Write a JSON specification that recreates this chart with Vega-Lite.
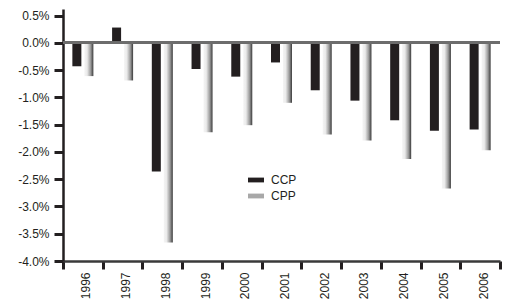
{
  "$schema": "https://vega.github.io/schema/vega-lite/v6.json",
  "width": 437,
  "height": 252,
  "autosize": "none",
  "padding": {"left": 63, "top": 9, "right": 9, "bottom": 43},
  "background": "white",
  "config": {"view": {"stroke": null}, "font": "Liberation Sans", "axis": {"grid": false}},
  "data": {
    "values": [
      {"year": "1996", "series": "CCP", "value": -0.43},
      {"year": "1996", "series": "CPP", "value": -0.61},
      {"year": "1997", "series": "CCP", "value": 0.28},
      {"year": "1997", "series": "CPP", "value": -0.69},
      {"year": "1998", "series": "CCP", "value": -2.36},
      {"year": "1998", "series": "CPP", "value": -3.66},
      {"year": "1999", "series": "CCP", "value": -0.48},
      {"year": "1999", "series": "CPP", "value": -1.64},
      {"year": "2000", "series": "CCP", "value": -0.62},
      {"year": "2000", "series": "CPP", "value": -1.51},
      {"year": "2001", "series": "CCP", "value": -0.36},
      {"year": "2001", "series": "CPP", "value": -1.1},
      {"year": "2002", "series": "CCP", "value": -0.87},
      {"year": "2002", "series": "CPP", "value": -1.68},
      {"year": "2003", "series": "CCP", "value": -1.06},
      {"year": "2003", "series": "CPP", "value": -1.79},
      {"year": "2004", "series": "CCP", "value": -1.42},
      {"year": "2004", "series": "CPP", "value": -2.13},
      {"year": "2005", "series": "CCP", "value": -1.61},
      {"year": "2005", "series": "CPP", "value": -2.67},
      {"year": "2006", "series": "CCP", "value": -1.59},
      {"year": "2006", "series": "CPP", "value": -1.97}
    ]
  },
  "layer": [
    {
      "mark": {"type": "bar"},
      "encoding": {
        "x": {
          "field": "year",
          "type": "ordinal",
          "scale": {"paddingInner": 0, "paddingOuter": 0},
          "axis": {
            "title": null,
            "labelAngle": -90,
            "labelFontSize": 12,
            "labelColor": "#231f20",
            "labelPadding": 3,
            "labelOffset": 3,
            "tickBand": "extent",
            "tickSize": 8,
            "tickWidth": 3,
            "tickColor": "#231f20",
            "domainColor": "#3a3a3a",
            "domainWidth": 2.5
          }
        },
        "xOffset": {"field": "series", "scale": {"paddingInner": 0.25, "paddingOuter": 0.78}},
        "y": {
          "field": "value",
          "type": "quantitative",
          "scale": {"domain": [-4, 0.62], "nice": false, "zero": false},
          "axis": {
            "title": null,
            "values": [0.5, 0, -0.5, -1, -1.5, -2, -2.5, -3, -3.5, -4],
            "labelOverlap": false,
            "labelExpr": "(datum.value < 0 ? '-' : '') + format(abs(datum.value), '.1f') + '%'",
            "labelFontSize": 12,
            "labelColor": "#231f20",
            "labelPadding": 5,
            "tickSize": 9,
            "tickWidth": 3,
            "tickColor": "#231f20",
            "domainColor": "#231f20",
            "domainWidth": 2.5
          }
        },
        "y2": {"datum": 0},
        "fill": {
          "field": "series",
          "type": "nominal",
          "scale": {"domain": ["CCP", "CPP"], "range": ["#231f20", "#a8a8a8"]},
          "condition": {
            "test": "datum.series === 'CPP'",
            "value": {
              "gradient": "linear",
              "x1": 0, "y1": 0, "x2": 1, "y2": 0,
              "stops": [
                {"offset": 0, "color": "#f4f4f4"},
                {"offset": 0.3, "color": "#ebebeb"},
                {"offset": 0.7, "color": "#9a9a9a"},
                {"offset": 1, "color": "#3a3a3a"}
              ]
            }
          },
          "legend": {
            "title": null,
            "orient": "none",
            "legendX": 185,
            "legendY": 163,
            "symbolType": "M-1,-0.3H1V0.3H-1Z",
            "symbolSize": 256,
            "symbolStrokeWidth": 0,
            "labelFontSize": 12,
            "labelFont": "Liberation Sans",
            "labelColor": "#231f20",
            "labelOffset": 7,
            "rowPadding": 2
          }
        }
      }
    },
    {
      "mark": {"type": "rule", "color": "#6d6d6d", "strokeWidth": 2},
      "encoding": {
        "y": {
          "datum": 0,
          "type": "quantitative",
          "axis": {
            "title": null,
            "values": [0.5, 0, -0.5, -1, -1.5, -2, -2.5, -3, -3.5, -4],
            "labelOverlap": false,
            "labelExpr": "(datum.value < 0 ? '-' : '') + format(abs(datum.value), '.1f') + '%'",
            "labelFontSize": 12,
            "labelColor": "#231f20",
            "labelPadding": 5,
            "tickSize": 9,
            "tickWidth": 3,
            "tickColor": "#231f20",
            "domainColor": "#231f20",
            "domainWidth": 2.5
          }
        }
      }
    }
  ]
}
